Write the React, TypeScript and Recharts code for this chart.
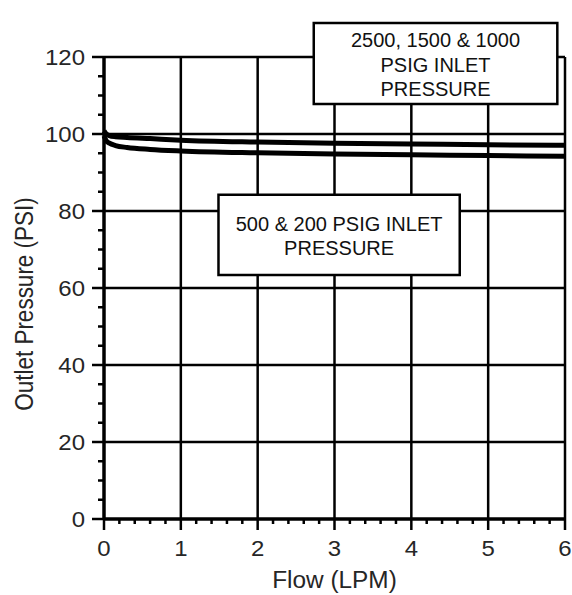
import React from 'react';
import { LineChart, Line, XAxis, YAxis, ReferenceLine, ReferenceArea } from 'recharts';

// Data
const flow = [0, 0.03, 0.07, 0.15, 0.3, 0.6, 1, 2, 3, 4, 5, 6];
const highInletPressure = [100.8, 100.0, 99.6, 99.3, 99.1, 98.8, 98.4, 97.9, 97.6, 97.4, 97.2, 97.1];
const lowInletPressure = [99.5, 98.2, 97.6, 97.0, 96.5, 96.0, 95.6, 95.1, 94.8, 94.6, 94.4, 94.2];

const xMajorTicks = [0, 1, 2, 3, 4, 5, 6];
const xTicks = Array.from({ length: 31 }, (_, i) => Math.round(i * 2) / 10);
const yTicks = Array.from({ length: 25 }, (_, i) => i * 5);
const xGrid = [1, 2, 3, 4, 5, 6];
const yGrid = [20, 40, 60, 80, 100, 120];

const box1Lines = ['2500, 1500 & 1000', 'PSIG INLET', 'PRESSURE'];
const box2Lines = ['500 & 200 PSIG INLET', 'PRESSURE'];
const box1 = { x1: 2.73, x2: 5.9, y1: 107.8, y2: 128.8 };
const box2 = { x1: 1.49, x2: 4.63, y1: 63.4, y2: 84.2 };

const data = flow.map((f, i) => ({ flow: f, high: highInletPressure[i], low: lowInletPressure[i] }));

const FONT = '"Liberation Sans", Arial, sans-serif';
const TXT = '#262626';

const isMajorX = (v: number) => xMajorTicks.some((m) => Math.abs(m - v) < 1e-6);

const XTick = (props: any) => {
  const { x, y, payload } = props;
  const v = payload.value;
  const major = isMajorX(v);
  return (
    <g>
      <line x1={x} x2={x} y1={y} y2={y + (major ? 11 : 5)} stroke="#000" strokeWidth={2.5} />
      {major && (
        <text
          transform={`translate(${x},${y + 37}) scale(1.09,1)`}
          textAnchor="middle"
          fontSize={22}
          fontFamily={FONT}
          fill={TXT}
        >
          {Math.round(v)}
        </text>
      )}
    </g>
  );
};

const YTick = (props: any) => {
  const { x, y, payload } = props;
  const v = payload.value;
  const major = v % 20 === 0;
  return (
    <g>
      <line x1={x} x2={x - (major ? 12 : 6)} y1={y} y2={y} stroke="#000" strokeWidth={2.5} />
      {major && (
        <text
          transform={`translate(${x - 19},${y + 7.9}) scale(1.09,1)`}
          textAnchor="end"
          fontSize={22}
          fontFamily={FONT}
          fill={TXT}
        >
          {v}
        </text>
      )}
    </g>
  );
};

const BoxText = (props: any) => {
  const { viewBox, lines } = props;
  if (!viewBox) return null;
  const cx = viewBox.x + viewBox.width / 2;
  const cy = viewBox.y + viewBox.height / 2;
  const lh = 24.6;
  const n = lines.length;
  return (
    <g>
      {lines.map((t: string, i: number) => (
        <text
          key={i}
          x={cx}
          y={cy + (i - (n - 1) / 2) * lh + 8}
          textAnchor="middle"
          fontSize={20}
          fontFamily={FONT}
          fill="#111"
        >
          {t}
        </text>
      ))}
    </g>
  );
};

const XTitle = (props: any) => {
  const { viewBox } = props;
  if (!viewBox) return null;
  const cx = viewBox.x + viewBox.width / 2;
  return (
    <text
      transform={`translate(${cx},${viewBox.y + 68.5}) scale(1.06,1)`}
      textAnchor="middle"
      fontSize={23}
      fontFamily={FONT}
      fill={TXT}
    >
      Flow (LPM)
    </text>
  );
};

const YTitle = (props: any) => {
  const { viewBox } = props;
  if (!viewBox) return null;
  const cy = viewBox.y + viewBox.height / 2 + 16;
  return (
    <text
      transform={`translate(${viewBox.x + 32.5},${cy}) scale(1.15,1) rotate(-90)`}
      textAnchor="middle"
      fontSize={22.5}
      fontFamily={FONT}
      fill={TXT}
    >
      Outlet Pressure (PSI)
    </text>
  );
};

export default function App() {
  return (
    <div style={{ position: 'absolute', left: 0, top: 0, background: '#fff' }}>
      <LineChart
        width={572}
        height={595}
        data={data}
        margin={{ top: 57, right: 7, bottom: 0, left: 0 }}
        style={{ fontFamily: FONT }}
      >
        <XAxis
          dataKey="flow"
          type="number"
          domain={[0, 6]}
          ticks={xTicks}
          interval={0}
          tick={<XTick />}
          tickLine={false}
          tickSize={0}
          tickMargin={0}
          height={76}
          axisLine={{ stroke: '#000', strokeWidth: 3.5 }}
          label={<XTitle />}
        />
        <YAxis
          type="number"
          domain={[0, 120]}
          ticks={yTicks}
          interval={0}
          tick={<YTick />}
          tickLine={false}
          tickSize={0}
          tickMargin={0}
          width={104}
          axisLine={{ stroke: '#000', strokeWidth: 3.5 }}
          label={<YTitle />}
        />
        {xGrid.map((v) => (
          <ReferenceLine key={'vx' + v} x={v} stroke="#000" strokeWidth={2.5} zIndex={-50} />
        ))}
        {yGrid.map((v) => (
          <ReferenceLine key={'hy' + v} y={v} stroke="#000" strokeWidth={2.5} zIndex={-50} />
        ))}
        <Line dataKey="high" type="monotone" stroke="#000" strokeWidth={5} dot={false} isAnimationActive={false} />
        <Line dataKey="low" type="monotone" stroke="#000" strokeWidth={5} dot={false} isAnimationActive={false} />
        <ReferenceArea
          x1={box1.x1}
          x2={box1.x2}
          y1={box1.y1}
          y2={box1.y2}
          ifOverflow="visible"
          fill="#fff"
          fillOpacity={1}
          stroke="#000"
          strokeWidth={2.5}
          zIndex={450}
          label={<BoxText lines={box1Lines} />}
        />
        <ReferenceArea
          x1={box2.x1}
          x2={box2.x2}
          y1={box2.y1}
          y2={box2.y2}
          ifOverflow="visible"
          fill="#fff"
          fillOpacity={1}
          stroke="#000"
          strokeWidth={2.5}
          zIndex={450}
          label={<BoxText lines={box2Lines} />}
        />
      </LineChart>
    </div>
  );
}
